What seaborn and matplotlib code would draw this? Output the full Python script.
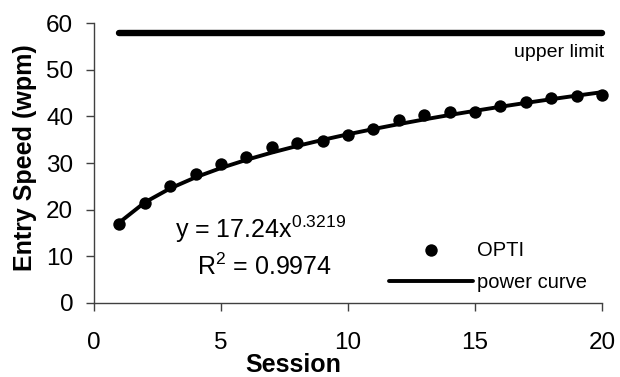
import matplotlib
matplotlib.use('Agg')
import matplotlib.pyplot as plt
import seaborn as sns
import pandas as pd

# data
session = list(range(1, 21))
opti_wpm = [17.0, 21.5, 25.0, 27.6, 29.8, 31.3, 33.5, 34.3, 34.8, 36.1,
            37.4, 39.2, 40.4, 40.9, 40.9, 42.2, 43.1, 43.9, 44.4, 44.7]
power_curve = [17.24, 21.55, 24.56, 26.94, 28.94, 30.69, 32.25, 33.67, 34.97, 36.18,
               37.30, 38.36, 39.37, 40.32, 41.22, 42.09, 42.92, 43.71, 44.48, 45.22]
limit_x = [1, 20]
upper_limit = [58, 58]
x_ticks = [0, 5, 10, 15, 20]
y_ticks = [0, 10, 20, 30, 40, 50, 60]

df = pd.DataFrame({'Session': session, 'OPTI': opti_wpm, 'power curve': power_curve})
lim = pd.DataFrame({'x': limit_x, 'y': upper_limit})

sns.set_style('ticks')
plt.rcParams['font.family'] = ['Liberation Sans', 'DejaVu Sans']
plt.rcParams['mathtext.fontset'] = 'custom'
plt.rcParams['mathtext.rm'] = 'Liberation Sans'
plt.rcParams['mathtext.it'] = 'Liberation Sans'
plt.rcParams['text.color'] = 'black'
plt.rcParams['axes.labelcolor'] = 'black'

fig = plt.figure(figsize=(6.2, 3.77), dpi=100)
ax = fig.add_axes([0.1516, 0.197, 0.8194, 0.741])

sns.lineplot(data=lim, x='x', y='y', color='black', linewidth=4.6, ax=ax,
             legend=False, clip_on=False)
sns.lineplot(data=df, x='Session', y='power curve', color='black', linewidth=2.8,
             ax=ax, label='power curve', clip_on=False)
sns.scatterplot(data=df, x='Session', y='OPTI', color='black', s=80, edgecolor='black',
                linewidth=0, ax=ax, label='OPTI', zorder=3, clip_on=False)

ax.set_xlim(0, 20)
ax.set_ylim(0, 60)
ax.set_xticks(x_ticks)
ax.set_yticks(y_ticks)
ax.tick_params(axis='both', direction='out', length=6, width=1, color='#404040',
               labelsize=17.5, labelcolor='black')
ax.tick_params(axis='x', pad=15)
ax.tick_params(axis='y', pad=9)
for side in ['top', 'right']:
    ax.spines[side].set_visible(False)
for side in ['left', 'bottom']:
    ax.spines[side].set_color('#404040')
    ax.spines[side].set_linewidth(1)

ax.set_xlabel('Session', fontsize=18, fontweight='bold')
ax.set_ylabel('Entry Speed (wpm)', fontsize=18, fontweight='bold')
ax.xaxis.set_label_coords(0.392, -0.18)
ax.yaxis.set_label_coords(-0.112, 0.521)

ax.text(20.1, 52.8, 'upper limit', fontsize=14, ha='right', va='baseline')
ax.text(3.19, 13.8, 'y = 17.24x$^{0.3219}$', fontsize=18, ha='left', va='baseline')
ax.text(4.06, 5.95, 'R$^2$ = 0.9974', fontsize=18, ha='left', va='baseline')

handles, labels = ax.get_legend_handles_labels()
order = [labels.index('OPTI'), labels.index('power curve')]
leg = ax.legend([handles[i] for i in order], [labels[i] for i in order],
                loc='upper left', bbox_to_anchor=(0.581, 0.222), frameon=False,
                fontsize=14.5, handlelength=4.17, handletextpad=0.2,
                labelspacing=0.65, borderpad=0, borderaxespad=0, markerscale=1)

plt.savefig('out.png', dpi=100)
plt.close()
